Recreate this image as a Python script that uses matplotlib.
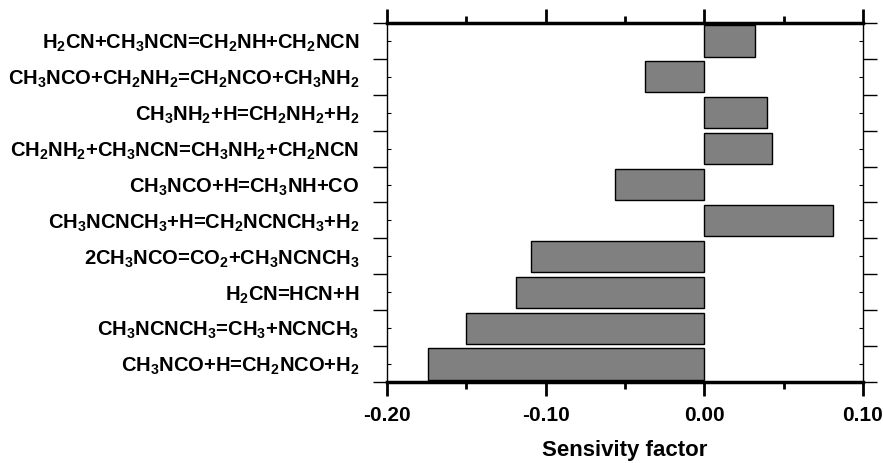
import matplotlib
matplotlib.use("Agg")
import matplotlib.pyplot as plt
import numpy as np
from matplotlib.ticker import MultipleLocator, FixedLocator

plt.rcParams['font.family'] = ['Liberation Sans', 'DejaVu Sans']
plt.rcParams['font.weight'] = 'bold'
plt.rcParams['mathtext.fontset'] = 'custom'
plt.rcParams['mathtext.rm'] = 'Liberation Sans:bold'
plt.rcParams['mathtext.it'] = 'Liberation Sans:bold'
plt.rcParams['mathtext.bf'] = 'Liberation Sans:bold'

# top to bottom
reactions = [
    'H$_2$CN+CH$_3$NCN=CH$_2$NH+CH$_2$NCN',
    'CH$_3$NCO+CH$_2$NH$_2$=CH$_2$NCO+CH$_3$NH$_2$',
    'CH$_3$NH$_2$+H=CH$_2$NH$_2$+H$_2$',
    'CH$_2$NH$_2$+CH$_3$NCN=CH$_3$NH$_2$+CH$_2$NCN',
    'CH$_3$NCO+H=CH$_3$NH+CO',
    'CH$_3$NCNCH$_3$+H=CH$_2$NCNCH$_3$+H$_2$',
    '2CH$_3$NCO=CO$_2$+CH$_3$NCNCH$_3$',
    'H$_2$CN=HCN+H',
    'CH$_3$NCNCH$_3$=CH$_3$+NCNCH$_3$',
    'CH$_3$NCO+H=CH$_2$NCO+H$_2$',
]
sensitivity = [0.032, -0.0375, 0.0397, 0.0426, -0.0563, 0.0808, -0.109, -0.119, -0.150, -0.174]
x_ticks = [-0.20, -0.10, 0.00, 0.10]
x_ticklabels = ['-0.20', '-0.10', '0.00', '0.10']

fig = plt.figure(figsize=(8.83, 4.63), dpi=100)
ax = fig.add_axes([387/883, 1-382/463, (863-387)/883, (382-23)/463])

pos = np.arange(len(reactions))
ax.barh(pos, sensitivity, height=0.87, color='#808080', edgecolor='black', linewidth=1.0)

ax.set_xlim(-0.20, 0.10)
ax.set_ylim(len(reactions)-0.5, -0.5)

ax.set_xticks(x_ticks)
ax.set_xticklabels(x_ticklabels, fontsize=15, fontweight='bold')
ax.xaxis.set_minor_locator(MultipleLocator(0.05))
ax.tick_params(axis='x', which='major', direction='out', length=10, width=2, top=True, bottom=True, pad=7)
ax.tick_params(axis='x', which='minor', direction='out', length=5, width=2, top=True, bottom=True)

ax.set_yticks(pos)
ax.set_yticklabels(reactions, fontsize=14.5, fontweight='bold')
ax.yaxis.set_minor_locator(FixedLocator(np.arange(-0.5, len(reactions)+0.5, 1.0)))
ax.tick_params(axis='y', which='major', direction='in', length=3, width=0.8, left=True, right=True, pad=20)
ax.tick_params(axis='y', which='minor', direction='out', length=10, width=1.0, left=True, right=True)

for s in ['top', 'bottom']:
    ax.spines[s].set_linewidth(2.5)
for s in ['left', 'right']:
    ax.spines[s].set_linewidth(1.0)

ax.set_xlabel('Sensivity factor', fontsize=16, fontweight='bold', labelpad=11)

fig.savefig('out.png', dpi=100)
